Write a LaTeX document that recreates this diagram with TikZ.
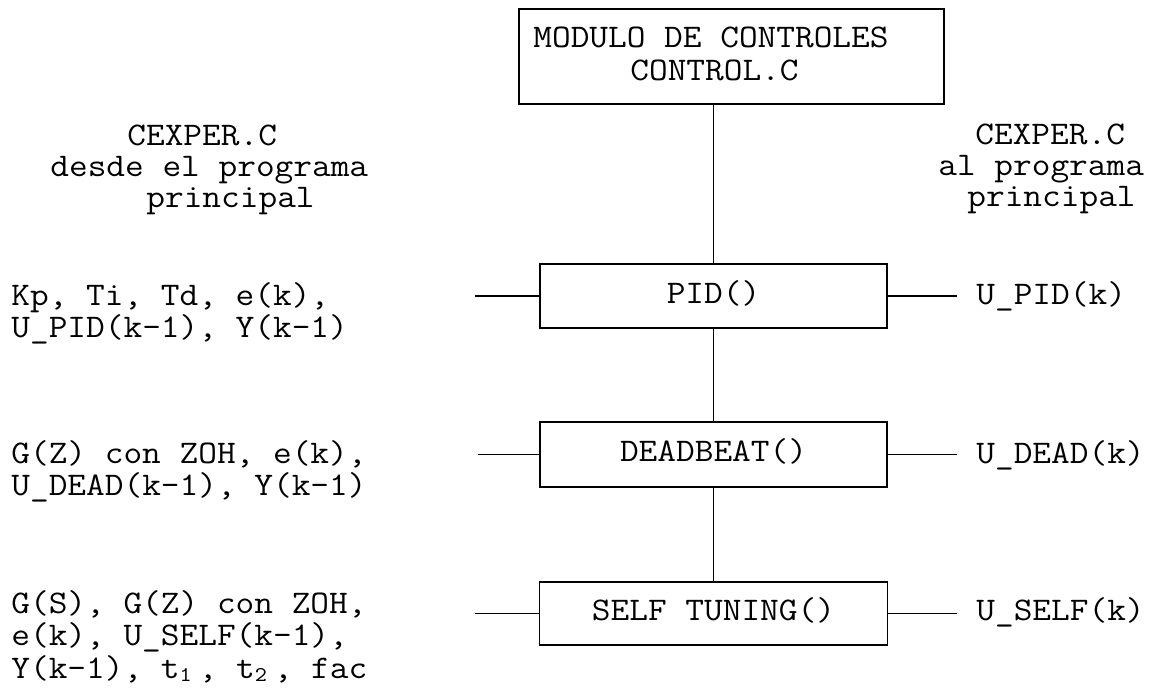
\documentclass[tikz,border=0pt]{standalone}
\usepackage{fontspec}
\setmonofont[FakeStretch=1.1]{Latin Modern Mono}
\newcommand{\subdig}[1]{\makebox[0.5775em][l]{\raisebox{-0.1em}{\fontsize{10.5}{10.5}\selectfont #1}}}
\begin{document}
\begin{tikzpicture}[x=0.5pt,y=-0.5pt,
  txt/.style={inner sep=0pt, anchor=base west, text height=10pt, text depth=3pt,
              font=\ttfamily\fontsize{16.5}{16.5}\selectfont},
  box/.style={draw, line width=0.9pt, inner sep=0pt, text height=7pt, text depth=0pt,
              font=\ttfamily\fontsize{16.5}{16.5}\selectfont},
  wire/.style={line width=0.7pt}]
\useasboundingbox[fill=white] (0,0) rectangle (1162,691);

% boxes
\node[box, minimum width=212.5pt, minimum height=47.5pt] (top) at (731.5,56.5) {};
\node[txt] (title1) at (533,47) {MODULO DE CONTROLES};
\node[txt] (title2) at (630,80) {CONTROL.C};

\node[box, minimum width=173.5pt, minimum height=32pt] (pid) at (713.5,296) {PID()};
\node[box, minimum width=173.5pt, minimum height=32.5pt] (dead) at (713.5,454.5) {DEADBEAT()};
\node[box, minimum width=174pt, minimum height=31.5pt] (self) at (713.5,613.5) {SELF TUNING()};

% vertical connectors
\draw[wire] (top.south -| pid.north) -- (pid.north);
\draw[wire] (pid) -- (dead);
\draw[wire] (dead) -- (self);

% side connectors
\coordinate (lpid) at (475,296);
\coordinate (rpid) at (957,296);
\coordinate (ldead) at (478,454.5);
\coordinate (rdead) at (957,454.5);
\coordinate (lself) at (475,613.5);
\coordinate (rself) at (957,613.5);
\draw[wire] (lpid) -- (pid.west);
\draw[wire] (pid.east) -- (rpid);
\draw[wire] (ldead) -- (dead.west);
\draw[wire] (dead.east) -- (rdead);
\draw[wire] (lself) -- (self.west);
\draw[wire] (self.east) -- (rself);

% left header
\node[txt] (lh1) at (127,145) {CEXPER.C};
\node[txt] (lh2) at (50,176) {desde el programa};
\node[txt] (lh3) at (146,207) {principal};

% right header
\node[txt] (rh1) at (975,144) {CEXPER.C};
\node[txt] (rh2) at (938,175) {al programa};
\node[txt] (rh3) at (967,206) {principal};

% left inputs
\node[txt] (inpid1) at (11,305) {Kp, Ti, Td, e(k),};
\node[txt] (inpid2) at (11,337) {U\_PID(k-1), Y(k-1)};
\node[txt] (indead1) at (11,463) {G(Z) con ZOH, e(k),};
\node[txt] (indead2) at (11,495) {U\_DEAD(k-1), Y(k-1)};
\node[txt] (inself1) at (11,613) {G(S), G(Z) con ZOH,};
\node[txt] (inself2) at (11,645) {e(k), U\_SELF(k-1),};
\node[txt] (inself3) at (11,678) {Y(k-1), t\subdig{1}, t\subdig{2}, fac};

% right outputs
\node[txt] (outpid) at (976,304) {U\_PID(k)};
\node[txt] (outdead) at (976,463) {U\_DEAD(k)};
\node[txt] (outself) at (976,620) {U\_SELF(k)};
\end{tikzpicture}
\end{document}
